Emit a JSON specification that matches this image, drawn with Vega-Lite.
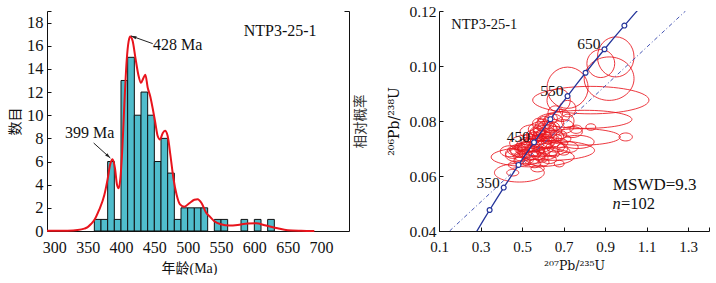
{
  "$schema": "https://vega.github.io/schema/vega-lite/v6.json",
  "background": "white",
  "padding": {"left": 8, "top": 3, "right": 0, "bottom": 0},
  "config": {
    "view": {"stroke": null},
    "font": "Liberation Serif",
    "axis": {"grid": false, "domainColor": "#111", "domainWidth": 1, "tickColor": "#111", "tickWidth": 1, "labelColor": "#111", "titleColor": "#111", "labelFont": "Liberation Serif", "titleFont": "Liberation Serif, Noto Sans CJK SC", "titleFontWeight": "normal", "labelFlush": false, "labelOverlap": false}
  },
  "datasets": {
    "hist": [
      {"a0": 360, "a1": 370, "n": 1}, {"a0": 370, "a1": 380, "n": 1}, {"a0": 380, "a1": 390, "n": 6}, {"a0": 390, "a1": 400, "n": 1},
      {"a0": 400, "a1": 410, "n": 13}, {"a0": 410, "a1": 420, "n": 15}, {"a0": 420, "a1": 430, "n": 10}, {"a0": 430, "a1": 440, "n": 12},
      {"a0": 440, "a1": 450, "n": 10}, {"a0": 450, "a1": 460, "n": 6}, {"a0": 460, "a1": 470, "n": 8}, {"a0": 470, "a1": 480, "n": 5},
      {"a0": 480, "a1": 490, "n": 1}, {"a0": 490, "a1": 500, "n": 2}, {"a0": 500, "a1": 510, "n": 2}, {"a0": 510, "a1": 520, "n": 2},
      {"a0": 520, "a1": 530, "n": 2}, {"a0": 540, "a1": 550, "n": 1}, {"a0": 550, "a1": 560, "n": 1}, {"a0": 580, "a1": 590, "n": 1},
      {"a0": 600, "a1": 610, "n": 1}, {"a0": 620, "a1": 630, "n": 1}
    ],
    "kde": [
      {"age": 289, "p": 0.02}, {"age": 300, "p": 0.02}, {"age": 320, "p": 0.03}, {"age": 335, "p": 0.08}, {"age": 345, "p": 0.2},
      {"age": 350, "p": 0.33}, {"age": 355, "p": 0.6}, {"age": 360, "p": 0.95}, {"age": 367, "p": 1.8}, {"age": 375, "p": 3.1},
      {"age": 380, "p": 4.5}, {"age": 384, "p": 5.8}, {"age": 387.5, "p": 6.2}, {"age": 391, "p": 5.4}, {"age": 394, "p": 4.0},
      {"age": 396.5, "p": 3.7}, {"age": 399, "p": 4.5}, {"age": 402, "p": 7.1}, {"age": 405, "p": 10.9}, {"age": 408.5, "p": 14.7},
      {"age": 411.5, "p": 16.4}, {"age": 414, "p": 16.8}, {"age": 417.5, "p": 16.4}, {"age": 421.5, "p": 15.0}, {"age": 426, "p": 13.5},
      {"age": 430, "p": 12.8}, {"age": 433.5, "p": 13.2}, {"age": 436.5, "p": 13.5}, {"age": 440, "p": 12.4}, {"age": 444, "p": 11.6},
      {"age": 447.5, "p": 10.6}, {"age": 451, "p": 9.5}, {"age": 455, "p": 8.2}, {"age": 458.5, "p": 7.9}, {"age": 462.5, "p": 8.45},
      {"age": 466, "p": 8.65}, {"age": 470, "p": 8.2}, {"age": 474, "p": 6.6}, {"age": 478.5, "p": 4.6}, {"age": 483.5, "p": 3.1},
      {"age": 488.5, "p": 2.3}, {"age": 495, "p": 2.1}, {"age": 502.5, "p": 2.4}, {"age": 510, "p": 2.7}, {"age": 515, "p": 2.75},
      {"age": 521, "p": 2.4}, {"age": 527.5, "p": 1.6}, {"age": 534, "p": 1.2}, {"age": 540, "p": 0.85}, {"age": 550, "p": 0.58},
      {"age": 562.5, "p": 0.47}, {"age": 575, "p": 0.52}, {"age": 590, "p": 0.65}, {"age": 602.5, "p": 0.66}, {"age": 617.5, "p": 0.47},
      {"age": 635, "p": 0.23}, {"age": 650, "p": 0.07}, {"age": 670, "p": 0.02}, {"age": 690, "p": 0.0}
    ],
    "arrows": [
      {"label": "428 Ma", "x0": 447.6, "y0": 16.18, "x1": 415, "y1": 16.85},
      {"label": "399 Ma", "x0": 359, "y0": 7.6, "x1": 384, "y1": 6.3}
    ],
    "ltext": [
      {"label": "428 Ma", "x": 448, "y": 16.04},
      {"label": "399 Ma", "x": 316, "y": 8.46},
      {"label": "NTP3-25-1", "x": 584, "y": 17.3}
    ],
    "conc": [
      {"t": 250, "cx": 0.27917, "cy": 0.039543}, {"t": 275, "cx": 0.31106, "cy": 0.043582}, {"t": 300, "cx": 0.34374, "cy": 0.047637},
      {"t": 325, "cx": 0.37723, "cy": 0.051708}, {"t": 350, "cx": 0.41156, "cy": 0.055795}, {"t": 375, "cx": 0.44675, "cy": 0.059897},
      {"t": 400, "cx": 0.48281, "cy": 0.064016}, {"t": 425, "cx": 0.51977, "cy": 0.06815}, {"t": 450, "cx": 0.55766, "cy": 0.07225},
      {"t": 475, "cx": 0.59648, "cy": 0.07647}, {"t": 500, "cx": 0.63628, "cy": 0.08065}, {"t": 525, "cx": 0.67707, "cy": 0.084849},
      {"t": 550, "cx": 0.71887, "cy": 0.089064}, {"t": 575, "cx": 0.76172, "cy": 0.093296}, {"t": 600, "cx": 0.80563, "cy": 0.097544},
      {"t": 625, "cx": 0.85064, "cy": 0.101809}, {"t": 650, "cx": 0.89677, "cy": 0.10609}, {"t": 675, "cx": 0.94405, "cy": 0.110388},
      {"t": 700, "cx": 0.99251, "cy": 0.114702}, {"t": 725, "cx": 1.04218, "cy": 0.119034}, {"t": 750, "cx": 1.09308, "cy": 0.123382}
    ],
    "ell": [
      {"x": 0.600, "y": 0.0785, "sx": 0.035, "sy": 0.0022}, {"x": 0.620, "y": 0.0775, "sx": 0.045, "sy": 0.0025},
      {"x": 0.585, "y": 0.0770, "sx": 0.030, "sy": 0.0020}, {"x": 0.640, "y": 0.0778, "sx": 0.040, "sy": 0.0020},
      {"x": 0.605, "y": 0.0760, "sx": 0.050, "sy": 0.0024}, {"x": 0.575, "y": 0.0752, "sx": 0.040, "sy": 0.0022},
      {"x": 0.630, "y": 0.0755, "sx": 0.035, "sy": 0.0018}, {"x": 0.660, "y": 0.0765, "sx": 0.030, "sy": 0.0016},
      {"x": 0.595, "y": 0.0745, "sx": 0.045, "sy": 0.0020}, {"x": 0.615, "y": 0.0740, "sx": 0.030, "sy": 0.0018},
      {"x": 0.560, "y": 0.0740, "sx": 0.035, "sy": 0.0020}, {"x": 0.650, "y": 0.0745, "sx": 0.050, "sy": 0.0022},
      {"x": 0.580, "y": 0.0732, "sx": 0.040, "sy": 0.0018}, {"x": 0.545, "y": 0.0728, "sx": 0.030, "sy": 0.0016},
      {"x": 0.600, "y": 0.0725, "sx": 0.060, "sy": 0.0025}, {"x": 0.625, "y": 0.0730, "sx": 0.025, "sy": 0.0014},
      {"x": 0.570, "y": 0.0718, "sx": 0.035, "sy": 0.0020}, {"x": 0.540, "y": 0.0712, "sx": 0.045, "sy": 0.0022},
      {"x": 0.520, "y": 0.0705, "sx": 0.040, "sy": 0.0020}, {"x": 0.555, "y": 0.0702, "sx": 0.030, "sy": 0.0016},
      {"x": 0.590, "y": 0.0708, "sx": 0.050, "sy": 0.0022}, {"x": 0.610, "y": 0.0700, "sx": 0.040, "sy": 0.0018},
      {"x": 0.500, "y": 0.0698, "sx": 0.035, "sy": 0.0018}, {"x": 0.530, "y": 0.0692, "sx": 0.055, "sy": 0.0024},
      {"x": 0.565, "y": 0.0690, "sx": 0.040, "sy": 0.0018}, {"x": 0.600, "y": 0.0688, "sx": 0.030, "sy": 0.0015},
      {"x": 0.485, "y": 0.0690, "sx": 0.040, "sy": 0.0020}, {"x": 0.515, "y": 0.0682, "sx": 0.030, "sy": 0.0016},
      {"x": 0.545, "y": 0.0680, "sx": 0.045, "sy": 0.0020}, {"x": 0.580, "y": 0.0678, "sx": 0.035, "sy": 0.0018},
      {"x": 0.620, "y": 0.0680, "sx": 0.045, "sy": 0.0020}, {"x": 0.500, "y": 0.0672, "sx": 0.040, "sy": 0.0018},
      {"x": 0.530, "y": 0.0670, "sx": 0.030, "sy": 0.0015}, {"x": 0.560, "y": 0.0668, "sx": 0.050, "sy": 0.0022},
      {"x": 0.470, "y": 0.0675, "sx": 0.050, "sy": 0.0022}, {"x": 0.595, "y": 0.0665, "sx": 0.030, "sy": 0.0015},
      {"x": 0.640, "y": 0.0690, "sx": 0.035, "sy": 0.0016}, {"x": 0.545, "y": 0.0658, "sx": 0.035, "sy": 0.0016},
      {"x": 0.510, "y": 0.0660, "sx": 0.045, "sy": 0.0020}, {"x": 0.660, "y": 0.0705, "sx": 0.045, "sy": 0.0018},
      {"x": 0.580, "y": 0.0790, "sx": 0.030, "sy": 0.0020}, {"x": 0.610, "y": 0.0795, "sx": 0.035, "sy": 0.0022},
      {"x": 0.565, "y": 0.0762, "sx": 0.025, "sy": 0.0016}, {"x": 0.590, "y": 0.0755, "sx": 0.020, "sy": 0.0013},
      {"x": 0.545, "y": 0.0750, "sx": 0.025, "sy": 0.0015}, {"x": 0.535, "y": 0.0738, "sx": 0.030, "sy": 0.0016},
      {"x": 0.575, "y": 0.0742, "sx": 0.025, "sy": 0.0015}, {"x": 0.525, "y": 0.0722, "sx": 0.030, "sy": 0.0018},
      {"x": 0.505, "y": 0.0715, "sx": 0.030, "sy": 0.0018}, {"x": 0.560, "y": 0.0725, "sx": 0.020, "sy": 0.0012},
      {"x": 0.585, "y": 0.0695, "sx": 0.025, "sy": 0.0014}, {"x": 0.620, "y": 0.0715, "sx": 0.030, "sy": 0.0016},
      {"x": 0.640, "y": 0.0722, "sx": 0.045, "sy": 0.0018}, {"x": 0.535, "y": 0.0700, "sx": 0.020, "sy": 0.0012},
      {"x": 0.490, "y": 0.0705, "sx": 0.025, "sy": 0.0015}, {"x": 0.470, "y": 0.0695, "sx": 0.030, "sy": 0.0016},
      {"x": 0.455, "y": 0.0682, "sx": 0.035, "sy": 0.0018}, {"x": 0.440, "y": 0.0690, "sx": 0.045, "sy": 0.0020},
      {"x": 0.680, "y": 0.0720, "sx": 0.040, "sy": 0.0016}, {"x": 0.700, "y": 0.0735, "sx": 0.035, "sy": 0.0015},
      {"x": 0.690, "y": 0.0750, "sx": 0.025, "sy": 0.0014}, {"x": 0.670, "y": 0.0740, "sx": 0.020, "sy": 0.0012},
      {"x": 0.655, "y": 0.0680, "sx": 0.025, "sy": 0.0012}, {"x": 0.700, "y": 0.0690, "sx": 0.030, "sy": 0.0014},
      {"x": 0.630, "y": 0.0660, "sx": 0.035, "sy": 0.0015}, {"x": 0.605, "y": 0.0650, "sx": 0.025, "sy": 0.0013},
      {"x": 0.560, "y": 0.0645, "sx": 0.030, "sy": 0.0015}, {"x": 0.520, "y": 0.0650, "sx": 0.020, "sy": 0.0012},
      {"x": 0.485, "y": 0.0655, "sx": 0.025, "sy": 0.0013}, {"x": 0.455, "y": 0.0640, "sx": 0.020, "sy": 0.0012},
      {"x": 0.600, "y": 0.0770, "sx": 0.070, "sy": 0.0028}, {"x": 0.550, "y": 0.0760, "sx": 0.060, "sy": 0.0026},
      {"x": 0.625, "y": 0.0800, "sx": 0.020, "sy": 0.0013}, {"x": 0.640, "y": 0.0810, "sx": 0.030, "sy": 0.0018},
      {"x": 0.551, "y": 0.0669, "sx": 0.200, "sy": 0.0036}, {"x": 0.487, "y": 0.0612, "sx": 0.120, "sy": 0.0034},
      {"x": 0.455, "y": 0.0612, "sx": 0.029, "sy": 0.0012}, {"x": 0.575, "y": 0.0627, "sx": 0.032, "sy": 0.0012},
      {"x": 0.679, "y": 0.0645, "sx": 0.024, "sy": 0.0012}, {"x": 0.639, "y": 0.0693, "sx": 0.210, "sy": 0.0036},
      {"x": 0.767, "y": 0.0724, "sx": 0.080, "sy": 0.0024}, {"x": 0.783, "y": 0.0742, "sx": 0.190, "sy": 0.0030},
      {"x": 0.999, "y": 0.0742, "sx": 0.032, "sy": 0.00145}, {"x": 0.831, "y": 0.0778, "sx": 0.024, "sy": 0.0012},
      {"x": 0.802, "y": 0.0806, "sx": 0.227, "sy": 0.0033}, {"x": 0.719, "y": 0.0845, "sx": 0.040, "sy": 0.0030},
      {"x": 0.676, "y": 0.0875, "sx": 0.056, "sy": 0.0042}, {"x": 0.719, "y": 0.0921, "sx": 0.099, "sy": 0.0075},
      {"x": 0.831, "y": 0.0876, "sx": 0.280, "sy": 0.0050}, {"x": 0.919, "y": 0.0954, "sx": 0.120, "sy": 0.0079},
      {"x": 0.879, "y": 0.1009, "sx": 0.067, "sy": 0.0051}, {"x": 0.951, "y": 0.1033, "sx": 0.088, "sy": 0.0073},
      {"x": 0.700, "y": 0.0780, "sx": 0.050, "sy": 0.0025}, {"x": 0.720, "y": 0.0800, "sx": 0.030, "sy": 0.0025},
      {"x": 0.660, "y": 0.0830, "sx": 0.035, "sy": 0.0025}, {"x": 0.690, "y": 0.0820, "sx": 0.040, "sy": 0.0022},
      {"x": 0.600, "y": 0.0700, "sx": 0.120, "sy": 0.0030}, {"x": 0.540, "y": 0.0720, "sx": 0.100, "sy": 0.0030},
      {"x": 0.740, "y": 0.0760, "sx": 0.050, "sy": 0.0020}, {"x": 0.720, "y": 0.0705, "sx": 0.050, "sy": 0.0020},
      {"x": 0.760, "y": 0.0770, "sx": 0.030, "sy": 0.0015}, {"x": 0.650, "y": 0.0795, "sx": 0.050, "sy": 0.0030}
    ],
    "dd": [{"x": 0.151, "y": 0.04}, {"x": 1.287, "y": 0.12}],
    "rtext": [
      {"label": "NTP3-25-1", "x": 0.159, "y": 0.1148}
    ],
    "stats": [
      {"label": "MSWD=9.3", "x": 0.937, "y": 0.0568}
    ],
    "nlab": [
      {"n": "n", "rest": "=102", "x": 0.935, "y": 0.0497}
    ]
  },
  "hconcat": [
    {
      "width": 302,
      "height": 220,
      "layer": [
        {
          "data": {"name": "hist"},
          "mark": {"type": "bar", "fill": "#50bdcc", "stroke": "#111", "strokeWidth": 1, "opacity": 1},
          "encoding": {
            "x": {"field": "a0", "type": "quantitative", "scale": {"domain": [289, 742], "nice": false, "zero": false},
                  "axis": {"values": [300, 350, 400, 450, 500, 550, 600, 650, 700], "tickCount": 50, "format": "d", "labelOverlap": false, "ticks": false, "labelPadding": 8, "labelFontSize": 16, "title": "年龄(Ma)", "titleFontSize": 14, "titlePadding": 6, "titleX": 142, "titleAlign": "center"}},
            "x2": {"field": "a1"},
            "y": {"field": "n", "type": "quantitative", "scale": {"domain": [0, 19], "nice": false},
                  "axis": {"values": [0, 2, 4, 6, 8, 10, 12, 14, 16, 18, 19], "format": "d", "labelOverlap": false, "labelExpr": "datum.value == 19 ? '' : datum.label", "tickSize": -4, "labelPadding": 8, "labelFontSize": 16.5, "title": "数目", "titleFontSize": 14, "titlePadding": 4}},
            "y2": {"datum": 0}
          }
        },
        {
          "data": {"name": "kde"},
          "mark": {"type": "line", "color": "#e8141c", "strokeWidth": 2, "interpolate": "monotone"},
          "encoding": {
            "x": {"field": "age", "type": "quantitative", "scale": {"domain": [289, 742], "nice": false, "zero": false}},
            "y": {"field": "p", "type": "quantitative", "scale": {"domain": [0, 19], "nice": false},
                  "axis": {"orient": "right", "values": [19], "labels": false, "tickSize": -5, "title": "相对概率", "titleAngle": -90, "titleBaseline": "top", "titlePadding": 4, "titleFontSize": 13.5, "titleColor": "#333"}}
          }
        },
        {
          "data": {"name": "arrows"},
          "mark": {"type": "rule", "color": "#222", "strokeWidth": 1},
          "encoding": {
            "x": {"field": "x0", "type": "quantitative", "scale": {"domain": [289, 742], "nice": false, "zero": false}},
            "y": {"field": "y0", "type": "quantitative", "scale": {"domain": [0, 19], "nice": false}, "axis": null},
            "x2": {"field": "x1"},
            "y2": {"field": "y1"}
          }
        },
        {
          "data": {"name": "arrows"},
          "transform": [{"filter": "datum.label == '428 Ma'"}],
          "mark": {"type": "point", "shape": "M0,0L0.6,2L-0.6,2Z", "filled": true, "color": "#222", "opacity": 1, "size": 30, "angle": 289.5},
          "encoding": {
            "x": {"field": "x1", "type": "quantitative", "scale": {"domain": [289, 742], "nice": false, "zero": false}},
            "y": {"field": "y1", "type": "quantitative", "scale": {"domain": [0, 19], "nice": false}, "axis": null}
          }
        },
        {
          "data": {"name": "arrows"},
          "transform": [{"filter": "datum.label == '399 Ma'"}],
          "mark": {"type": "point", "shape": "M0,0L0.6,2L-0.6,2Z", "filled": true, "color": "#222", "opacity": 1, "size": 30, "angle": 132},
          "encoding": {
            "x": {"field": "x1", "type": "quantitative", "scale": {"domain": [289, 742], "nice": false, "zero": false}},
            "y": {"field": "y1", "type": "quantitative", "scale": {"domain": [0, 19], "nice": false}, "axis": null}
          }
        },
        {
          "data": {"name": "ltext"},
          "mark": {"type": "text", "align": "left", "baseline": "middle", "font": "Liberation Serif", "fontSize": 16, "color": "#111"},
          "encoding": {
            "x": {"field": "x", "type": "quantitative", "scale": {"domain": [289, 742], "nice": false, "zero": false}},
            "y": {"field": "y", "type": "quantitative", "scale": {"domain": [0, 19], "nice": false}, "axis": null},
            "text": {"field": "label"}
          }
        }
      ],
      "resolve": {"axis": {"y": "independent"}}
    },
    {
      "width": 270,
      "height": 220,
      "layer": [
        {
          "data": {"name": "ell"},
          "transform": [
            {"calculate": "round(min(1.6, datum.sy / datum.sx * 13.24) * 1000) / 1000", "as": "h"},
            {"calculate": "round(0.5523 * datum.h * 1000) / 1000", "as": "k"},
            {"calculate": "'M-1,0C-1,' + (-datum.k) + ',-0.5523,' + (-datum.h) + ',0,' + (-datum.h) + 'C0.5523,' + (-datum.h) + ',1,' + (-datum.k) + ',1,0C1,' + datum.k + ',0.5523,' + datum.h + ',0,' + datum.h + 'C-0.5523,' + datum.h + ',-1,' + datum.k + ',-1,0Z'", "as": "path"}
          ],
          "mark": {"type": "point", "filled": false, "stroke": "#e8141c", "strokeWidth": 0.85, "opacity": 1},
          "encoding": {
            "x": {"field": "x", "type": "quantitative", "scale": {"domain": [0.1, 1.4], "nice": false, "zero": false},
                  "axis": {"values": [0.1, 0.3, 0.5, 0.7, 0.9, 1.1, 1.3, 1.4], "tickCount": 50, "labelOverlap": false, "labelExpr": "datum.value > 1.35 ? '' : format(datum.value, '.1f')", "tickSize": -4, "labelPadding": 12, "labelFontSize": 15, "title": "²⁰⁷Pb/²³⁵U", "titleFont": "DejaVu Serif", "titleFontSize": 12.5, "titlePadding": 5}},
            "y": {"field": "y", "type": "quantitative", "scale": {"domain": [0.04, 0.12], "nice": false, "zero": false},
                  "axis": {"values": [0.04, 0.06, 0.08, 0.1, 0.12], "tickCount": 50, "labelOverlap": false, "format": ".2f", "tickSize": -4, "labelPadding": 7, "labelFontSize": 15.5, "title": "²⁰⁶Pb/²³⁸U", "titleFont": "DejaVu Serif", "titleFontSize": 14, "titlePadding": 7}},
            "size": {"field": "sx", "type": "quantitative", "scale": {"type": "pow", "exponent": 2, "domain": [0, 0.1], "range": [0, 1725]}, "legend": null},
            "shape": {"field": "path", "type": "nominal", "scale": null}
          }
        },
        {
          "data": {"name": "dd"},
          "mark": {"type": "line", "color": "#4656b4", "strokeWidth": 1, "strokeDash": [4, 2.5, 1, 2.5], "clip": true},
          "encoding": {
            "x": {"field": "x", "type": "quantitative", "scale": {"domain": [0.1, 1.4], "nice": false, "zero": false}},
            "y": {"field": "y", "type": "quantitative", "scale": {"domain": [0.04, 0.12], "nice": false, "zero": false}}
          }
        },
        {
          "data": {"name": "conc"},
          "mark": {"type": "line", "color": "#24349a", "strokeWidth": 1.3, "clip": true},
          "encoding": {
            "x": {"field": "cx", "type": "quantitative", "scale": {"domain": [0.1, 1.4], "nice": false, "zero": false}},
            "y": {"field": "cy", "type": "quantitative", "scale": {"domain": [0.04, 0.12], "nice": false, "zero": false}},
            "order": {"field": "t", "type": "quantitative"}
          }
        },
        {
          "data": {"name": "conc"},
          "transform": [{"filter": "datum.t >= 300 && datum.t <= 700 && datum.t % 50 == 0"}],
          "mark": {"type": "point", "shape": "circle", "size": 24, "filled": true, "fill": "white", "stroke": "#24349a", "strokeWidth": 1.2, "opacity": 1},
          "encoding": {
            "x": {"field": "cx", "type": "quantitative", "scale": {"domain": [0.1, 1.4], "nice": false, "zero": false}},
            "y": {"field": "cy", "type": "quantitative", "scale": {"domain": [0.04, 0.12], "nice": false, "zero": false}}
          }
        },
        {
          "data": {"name": "conc"},
          "transform": [{"filter": "datum.t == 350 || datum.t == 450 || datum.t == 550 || datum.t == 650"}],
          "mark": {"type": "text", "align": "right", "baseline": "middle", "dx": -4, "dy": -5, "font": "Liberation Serif", "fontSize": 15.5, "color": "#111"},
          "encoding": {
            "x": {"field": "cx", "type": "quantitative", "scale": {"domain": [0.1, 1.4], "nice": false, "zero": false}},
            "y": {"field": "cy", "type": "quantitative", "scale": {"domain": [0.04, 0.12], "nice": false, "zero": false}},
            "text": {"field": "t", "type": "quantitative"}
          }
        },
        {
          "data": {"name": "rtext"},
          "mark": {"type": "text", "align": "left", "baseline": "middle", "font": "Liberation Serif", "fontSize": 14.5, "color": "#111"},
          "encoding": {
            "x": {"field": "x", "type": "quantitative", "scale": {"domain": [0.1, 1.4], "nice": false, "zero": false}},
            "y": {"field": "y", "type": "quantitative", "scale": {"domain": [0.04, 0.12], "nice": false, "zero": false}},
            "text": {"field": "label"}
          }
        },
        {
          "data": {"name": "stats"},
          "mark": {"type": "text", "align": "left", "baseline": "middle", "font": "Liberation Serif", "fontSize": 17, "color": "#111"},
          "encoding": {
            "x": {"field": "x", "type": "quantitative", "scale": {"domain": [0.1, 1.4], "nice": false, "zero": false}},
            "y": {"field": "y", "type": "quantitative", "scale": {"domain": [0.04, 0.12], "nice": false, "zero": false}},
            "text": {"field": "label"}
          }
        },
        {
          "data": {"name": "nlab"},
          "mark": {"type": "text", "align": "left", "baseline": "middle", "font": "Liberation Serif", "fontStyle": "italic", "fontSize": 16.5, "color": "#111"},
          "encoding": {
            "x": {"field": "x", "type": "quantitative", "scale": {"domain": [0.1, 1.4], "nice": false, "zero": false}},
            "y": {"field": "y", "type": "quantitative", "scale": {"domain": [0.04, 0.12], "nice": false, "zero": false}},
            "text": {"field": "n"}
          }
        },
        {
          "data": {"name": "nlab"},
          "mark": {"type": "text", "align": "left", "baseline": "middle", "dx": 8.5, "font": "Liberation Serif", "fontSize": 16.5, "color": "#111"},
          "encoding": {
            "x": {"field": "x", "type": "quantitative", "scale": {"domain": [0.1, 1.4], "nice": false, "zero": false}},
            "y": {"field": "y", "type": "quantitative", "scale": {"domain": [0.04, 0.12], "nice": false, "zero": false}},
            "text": {"field": "rest"}
          }
        }
      ]
    }
  ],
  "spacing": 90,
  "bounds": "flush"
}
